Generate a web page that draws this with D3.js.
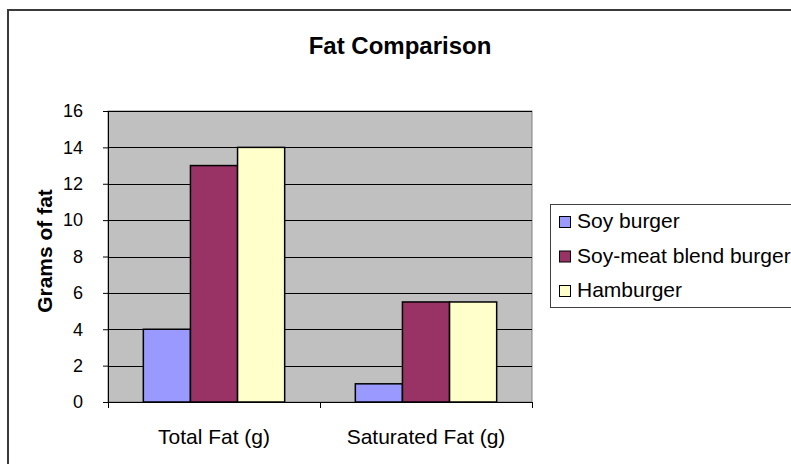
<!DOCTYPE html>
<html>
<head>
<meta charset="utf-8">
<script src="https://d3js.org/d3.v7.min.js"></script>
<style>
  body { margin: 0; background: #fff; }
  svg { display: block; font-family: "Liberation Sans", Arial, sans-serif; }
</style>
</head>
<body>
<div id="chart"></div>
<script>
// data
var categories = ["Total Fat (g)", "Saturated Fat (g)"];
var seriesNames = ["Soy burger", "Soy-meat blend burger", "Hamburger"];
var soyBurger = [4, 1];
var soyMeatBlend = [13, 5.5];
var hamburger = [14, 5.5];
var yTicks = [0, 2, 4, 6, 8, 10, 12, 14, 16];
var colors = ["#9999FF", "#993366", "#FFFFCC"];

var seriesValues = [soyBurger, soyMeatBlend, hamburger];
var rows = categories.map(function(c, i) {
  return { cat: c, vals: seriesNames.map(function(s, j) { return { name: s, value: seriesValues[j][i] }; }) };
});

var W = 791, H = 464;
var plot = { left: 108, top: 111, right: 532, bottom: 402 };

var svg = d3.select("#chart")
  .append("svg")
    .attr("width", W)
    .attr("height", H);

// outer chart border (runs past the window on the right and bottom)
svg.append("rect")
  .attr("x", 8).attr("y", 10)
  .attr("width", 900).attr("height", 600)
  .attr("fill", "#fff")
  .attr("stroke", "#3a3a3a")
  .attr("stroke-width", 2);

// title
svg.append("text")
  .attr("x", 400).attr("y", 54)
  .attr("text-anchor", "middle")
  .attr("font-size", "24px")
  .attr("font-weight", "bold")
  .text("Fat Comparison");

// scales
var x0 = d3.scaleBand()
  .domain(categories)
  .range([plot.left, plot.right])
  .padding(0);

var x1 = d3.scaleBand()
  .domain(seriesNames)
  .range([0, x0.bandwidth()])
  .paddingInner(0)
  .paddingOuter(0.75);

var y = d3.scaleLinear()
  .domain([0, 16])
  .range([plot.bottom, plot.top]);

var color = d3.scaleOrdinal().domain(seriesNames).range(colors);

// plot area
svg.append("rect")
  .attr("x", plot.left).attr("y", plot.top)
  .attr("width", plot.right - plot.left)
  .attr("height", plot.bottom - plot.top)
  .attr("fill", "#C0C0C0")
  .attr("stroke", "#808080")
  .attr("stroke-width", 1);

// gridlines
svg.append("g")
  .selectAll("line")
  .data(yTicks.slice(1))
  .enter()
  .append("line")
    .attr("x1", plot.left).attr("x2", plot.right)
    .attr("y1", function(d) { return Math.round(y(d)) + 0.5; })
    .attr("y2", function(d) { return Math.round(y(d)) + 0.5; })
    .attr("stroke", "#000")
    .attr("stroke-width", 1);

// Y axis
var yAxis = svg.append("g")
  .attr("transform", "translate(" + plot.left + ",0)")
  .call(d3.axisLeft(y).tickValues(yTicks).tickSize(5).tickPadding(20));
yAxis.selectAll("text")
  .attr("font-size", "18px")
  .attr("font-family", "Liberation Sans, Arial, sans-serif")
  .attr("fill", "#000");
yAxis.select(".domain").attr("stroke", "#000");

// X axis
var xAxis = svg.append("g")
  .attr("transform", "translate(0," + plot.bottom + ")");
xAxis.append("line")
  .attr("x1", plot.left).attr("x2", plot.right)
  .attr("y1", 0.5).attr("y2", 0.5)
  .attr("stroke", "#000");
xAxis.selectAll(".xtick")
  .data([plot.left].concat(categories.map(function(c) { return x0(c) + x0.bandwidth(); })))
  .enter()
  .append("line")
    .attr("class", "xtick")
    .attr("x1", function(d) { return Math.round(d) + 0.5; })
    .attr("x2", function(d) { return Math.round(d) + 0.5; })
    .attr("y1", 0).attr("y2", 6)
    .attr("stroke", "#000");
xAxis.selectAll(".xlab")
  .data(categories)
  .enter()
  .append("text")
    .attr("class", "xlab")
    .attr("x", function(d) { return x0(d) + x0.bandwidth() / 2; })
    .attr("y", 42)
    .attr("text-anchor", "middle")
    .attr("font-size", "21px")
    .text(function(d) { return d; });

// bars
svg.append("g")
  .selectAll("g")
  .data(rows)
  .enter()
  .append("g")
    .attr("transform", function(d) { return "translate(" + x0(d.cat) + ",0)"; })
  .selectAll("rect")
  .data(function(d) { return d.vals; })
  .enter()
  .append("rect")
    .attr("x", function(d) { return x1(d.name); })
    .attr("y", function(d) { return y(d.value); })
    .attr("width", x1.bandwidth())
    .attr("height", function(d) { return y(0) - y(d.value); })
    .attr("fill", function(d) { return color(d.name); })
    .attr("stroke", "#000")
    .attr("stroke-width", 1.5);

// y axis title
svg.append("text")
  .attr("transform", "translate(52,251) rotate(-90)")
  .attr("text-anchor", "middle")
  .attr("font-size", "21px")
  .attr("font-weight", "bold")
  .text("Grams of fat");

// legend
var legend = svg.append("g");
legend.append("rect")
  .attr("x", 550.5).attr("y", 204.5)
  .attr("width", 300).attr("height", 103)
  .attr("fill", "#fff")
  .attr("stroke", "#404040")
  .attr("stroke-width", 1);

var item = legend.selectAll(".item")
  .data(seriesNames)
  .enter()
  .append("g")
    .attr("class", "item")
    .attr("transform", function(d, i) { return "translate(0," + (228 + i * 34.5) + ")"; });
item.append("rect")
  .attr("x", 559.5).attr("y", -11.5)
  .attr("width", 11).attr("height", 11)
  .attr("fill", function(d) { return color(d); })
  .attr("stroke", "#000")
  .attr("stroke-width", 1);
item.append("text")
  .attr("x", 577).attr("y", 0)
  .attr("font-size", "21px")
  .text(function(d) { return d; });
</script>
</body>
</html>
